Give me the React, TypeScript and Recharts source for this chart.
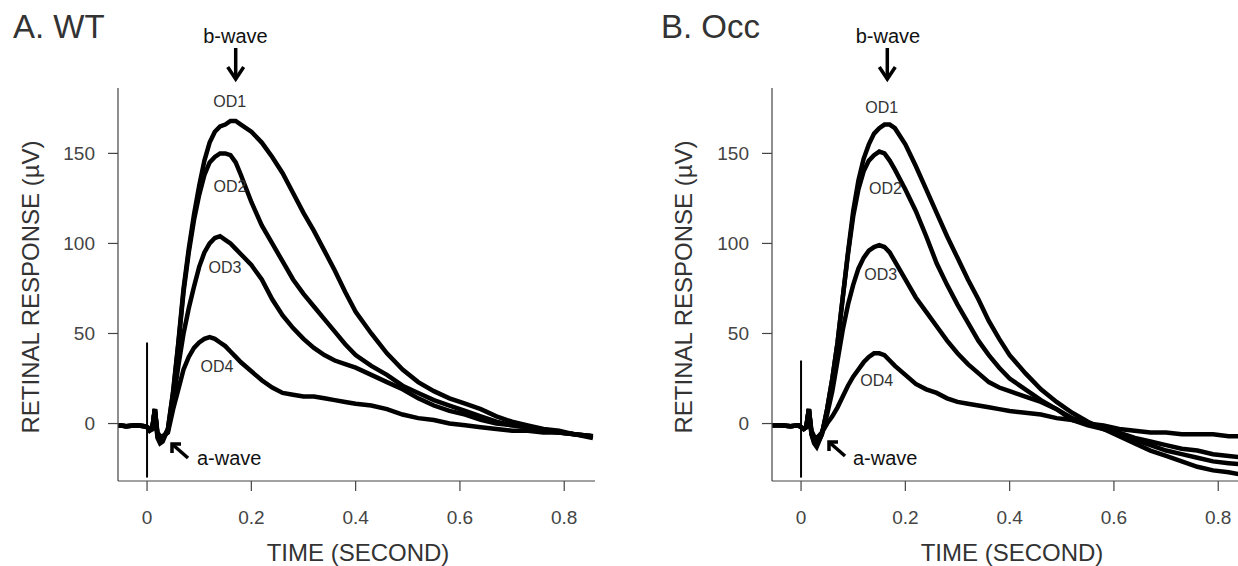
import { LineChart, Line, XAxis, YAxis, ReferenceLine } from 'recharts'

// sample times (s), shared by both panels
const time = [
  -0.055, -0.04, -0.02, -0.005, 0, 0.005, 0.01, 0.015, 0.02, 0.025, 0.03, 0.04, 0.05, 0.06, 0.07, 0.08,
  0.09, 0.1, 0.11, 0.12, 0.13, 0.14, 0.15, 0.16, 0.17, 0.18, 0.2, 0.22, 0.24, 0.26, 0.28, 0.3, 0.32, 0.34,
  0.36, 0.38, 0.4, 0.43, 0.46, 0.49, 0.52, 0.55, 0.58, 0.61, 0.64, 0.67, 0.7, 0.73, 0.76, 0.79, 0.82, 0.855,
]

// A. WT (µV)
const od1A = [
  -1, -1.5, -1, -1.5, -2, -4, -3, 8, -8, -11, -10, -3, 18, 45, 75, 97, 116, 132, 146, 156, 162, 165, 166,
  168, 168, 166, 162, 156, 148, 139, 128, 117, 107, 96, 85, 73, 62, 50, 39, 30, 23, 18, 14, 11, 8, 4, 1, -1,
  -3, -4, -6, -8,
]
const od2A = [
  -1, -1.5, -1, -1.5, -2, -4, -3, 8, -7, -10, -9, -3, 17, 44, 73, 95, 113, 127, 138, 145, 148, 150, 150,
  149, 145, 138, 123, 110, 100, 90, 80, 72, 65, 58, 51, 44, 38, 32, 27, 21, 17, 13, 10, 7, 4, 1, -1, -2, -4,
  -5, -6, -7,
]
const od3A = [
  -1, -1.5, -1, -1.5, -2, -3, -3, 8, -6, -9, -8, -4, 12, 32, 50, 64, 76, 87, 95, 100, 103, 104, 102, 100,
  97, 94, 88, 80, 69, 60, 53, 47, 42, 38, 35, 33, 31, 27, 23, 19, 14, 10, 7, 5, 2, 0, -1, -2, -4, -5, -6, -7,
]
const od4A = [
  -1, -1.5, -1, -1.5, -2, -3, -2, 8, -5, -7, -7, -5, 8, 19, 30, 37, 42, 45, 47, 48, 47, 45, 43, 40, 37, 34,
  29, 24, 20, 17, 16, 15, 15, 14, 13, 12, 11, 10, 8, 5, 3, 2, 0, -1, -2, -3, -4, -4, -5, -5, -6, -7,
]

// B. Occ (µV)
const od1B = [
  -1, -1, -1.5, -1, -2, -3, -2, 8, -6, -11, -13, -6, 8, 25, 45, 70, 95, 118, 135, 147, 155, 161, 164, 166,
  166, 164, 155, 143, 130, 117, 104, 92, 80, 69, 57, 47, 38, 28, 19, 12, 6, 1, -3, -7, -11, -15, -18, -21,
  -24, -26, -27, -29,
]
const od2B = [
  -1, -1, -1.5, -1, -2, -3, -2, 8, -6, -10, -12, -6, 8, 25, 45, 70, 94, 115, 130, 140, 146, 149, 151, 150,
  146, 141, 130, 118, 104, 89, 77, 66, 56, 46, 38, 31, 25, 19, 13, 8, 3, 0, -3, -6, -9, -12, -15, -17, -19,
  -21, -22, -23,
]
const od3B = [
  -1, -1, -1.5, -1, -2, -3, -2, 8, -5, -9, -10, -5, 5, 18, 35, 52, 66, 77, 86, 92, 96, 98, 99, 98, 95, 90,
  80, 70, 62, 54, 46, 39, 33, 28, 23, 20, 18, 15, 12, 8, 2, -1, -3, -5, -8, -10, -12, -14, -15, -17, -18, -19,
]
const od4B = [
  -1, -1, -1.5, -1, -2, -3, -2, 8, -4, -7, -8, -5, 0, 4, 9, 15, 21, 26, 30, 34, 37, 39, 39, 38, 35, 32, 27,
  22, 19, 17, 14, 12, 11, 10, 9, 8, 7, 6, 5, 3, 2, 0, -1, -3, -4, -5, -5, -6, -6, -6, -7, -7,
]

// stimulus artifact at t = 0 (top, bottom in µV)
const artifactA = [45, -30]
const artifactB = [35, -30]

const xTicks = [0, 0.2, 0.4, 0.6, 0.8]
const yTicks = [0, 50, 100, 150]
const seriesKeys = ['od1', 'od2', 'od3', 'od4']

const FONT = '"Liberation Sans", Arial, Helvetica, sans-serif'
const AXIS = '#444'

function buildRows(series: number[][]) {
  return time.map((t, i) => {
    const row: Record<string, number> = { t }
    seriesKeys.forEach((k, j) => (row[k] = series[j][i]))
    return row
  })
}

const rowsA = buildRows([od1A, od2A, od3A, od4A])
const rowsB = buildRows([od1B, od2B, od3B, od4B])

type PanelProps = {
  rows: Record<string, number>[]
  left: number
  width: number
  yAxisWidth: number
  rightMargin: number
  xMax: number
  artifact: number[]
}

function Panel({ rows, left, width, yAxisWidth, rightMargin, xMax, artifact }: PanelProps) {
  const tickStyle = { fill: AXIS, fontSize: 19, fontFamily: FONT }
  return (
    <div style={{ position: 'absolute', left, top: 0 }}>
      <LineChart width={width} height={566} data={rows} margin={{ top: 88, right: rightMargin, bottom: 0, left: 0 }}>
        <XAxis
          dataKey="t"
          type="number"
          domain={[-0.0557, xMax]}
          ticks={xTicks}
          interval={0}
          allowDataOverflow
          height={85}
          tickSize={10}
          tickMargin={20}
          axisLine={{ stroke: AXIS, strokeWidth: 1.2 }}
          tickLine={{ stroke: AXIS, strokeWidth: 1.2 }}
          tick={tickStyle}
        />
        <YAxis
          type="number"
          domain={[-31.9, 186.3]}
          ticks={yTicks}
          interval={0}
          allowDataOverflow
          width={yAxisWidth}
          tickSize={10}
          tickMargin={13}
          axisLine={{ stroke: AXIS, strokeWidth: 1.2 }}
          tickLine={{ stroke: AXIS, strokeWidth: 1.2 }}
          tick={tickStyle}
        />
        <ReferenceLine
          segment={[{ x: 0, y: artifact[0] }, { x: 0, y: artifact[1] }]}
          stroke="#000"
          strokeWidth={2}
          ifOverflow="visible"
        />
        {seriesKeys.map((k) => (
          <Line
            key={k}
            dataKey={k}
            type="linear"
            stroke="#000"
            strokeWidth={4.5}
            dot={false}
            activeDot={false}
            isAnimationActive={false}
          />
        ))}
      </LineChart>
    </div>
  )
}

function DownArrow({ x }: { x: number }) {
  return (
    <g stroke="#000" strokeWidth={3.5} fill="none">
      <line x1={x} y1={48} x2={x} y2={78} />
      <polyline points={`${x - 8},${67} ${x},${79} ${x + 8},${67}`} strokeLinejoin="miter" />
    </g>
  )
}

function UpLeftArrow({ x, y }: { x: number; y: number }) {
  // x, y = tip
  return (
    <g stroke="#000" strokeWidth={3.5} fill="none">
      <line x1={x + 1} y1={y + 1} x2={x + 17} y2={y + 15} />
      <polyline points={`${x + 10},${y + 1} ${x + 1},${y + 1} ${x + 1},${y + 10}`} strokeLinejoin="miter" />
    </g>
  )
}

function Annotations() {
  const od = { fontSize: 16, fill: '#333', textAnchor: 'middle' as const }
  const big = { fontSize: 20, fill: '#111' }
  return (
    <svg width={1238} height={566} style={{ position: 'absolute', left: 0, top: 0, pointerEvents: 'none' }} fontFamily={FONT}>
      {/* panel A */}
      <text x={13} y={38} fontSize={33} fill="#333">A. WT</text>
      <text x={235.5} y={43} textAnchor="middle" {...big}>b-wave</text>
      <DownArrow x={235.7} />
      <text x={229.7} y={107} {...od}>OD1</text>
      <text x={230} y={192} {...od}>OD2</text>
      <text x={225} y={273} {...od}>OD3</text>
      <text x={217} y={372} {...od}>OD4</text>
      <UpLeftArrow x={171} y={443} />
      <text x={197} y={465} {...big}>a-wave</text>
      <text x={30} y={287} fontSize={24} fill="#333" textAnchor="middle" dominantBaseline="central" transform="rotate(-90 30 287)">
        RETINAL RESPONSE (µV)
      </text>
      <text x={358} y={561} fontSize={24} fill="#333" textAnchor="middle">TIME (SECOND)</text>

      {/* panel B */}
      <text x={661} y={38} fontSize={33} fill="#333">B. Occ</text>
      <text x={888} y={43} textAnchor="middle" {...big}>b-wave</text>
      <DownArrow x={887.3} />
      <text x={881.7} y={113} {...od}>OD1</text>
      <text x={885.4} y={194} {...od}>OD2</text>
      <text x={880.7} y={280} {...od}>OD3</text>
      <text x={876.8} y={386} {...od}>OD4</text>
      <UpLeftArrow x={828} y={441} />
      <text x={853} y={465} {...big}>a-wave</text>
      <text x={683} y={287} fontSize={24} fill="#333" textAnchor="middle" dominantBaseline="central" transform="rotate(-90 683 287)">
        RETINAL RESPONSE (µV)
      </text>
      <text x={1012} y={561} fontSize={24} fill="#333" textAnchor="middle">TIME (SECOND)</text>
    </svg>
  )
}

export default function App() {
  return (
    <div style={{ position: 'absolute', left: 0, top: 0, width: 1238, height: 566, background: '#fff', overflow: 'hidden', fontFamily: FONT }}>
      <Panel rows={rowsA} left={0} width={620} yAxisWidth={118} rightMargin={25} xMax={0.859} artifact={artifactA} />
      <Panel rows={rowsB} left={650} width={588} yAxisWidth={122} rightMargin={0} xMax={0.8379} artifact={artifactB} />
      <Annotations />
    </div>
  )
}
